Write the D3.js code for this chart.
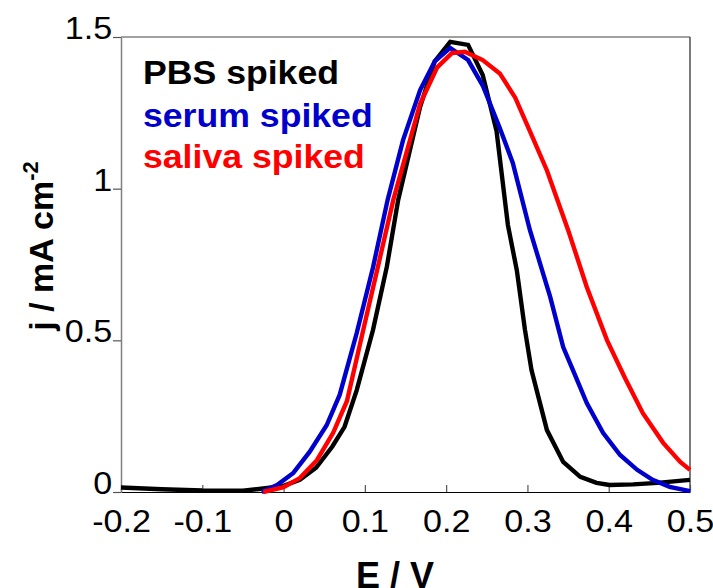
<!DOCTYPE html>
<html>
<head>
<meta charset="utf-8">
<script src="https://cdn.jsdelivr.net/npm/d3@7"></script>
<style>
  html, body { margin: 0; padding: 0; background: #fff; }
  svg { display: block; font-family: "Liberation Sans", Arial, sans-serif; }
</style>
</head>
<body>
<div id="chart"></div>
<script>
// ---- data (E / V, j / mA cm-2) ----
const pbs_E = [-0.20, -0.15, -0.10, -0.05, -0.03, 0.00, 0.02, 0.04, 0.06, 0.075, 0.09, 0.11, 0.127, 0.141, 0.168, 0.186, 0.205, 0.227, 0.245, 0.262, 0.276, 0.287, 0.297, 0.305, 0.324, 0.344, 0.365, 0.385, 0.401, 0.43, 0.46, 0.50];
const pbs_j = [0.015, 0.009, 0.005, 0.004, 0.010, 0.020, 0.040, 0.080, 0.150, 0.215, 0.336, 0.534, 0.742, 0.963, 1.27, 1.42, 1.484, 1.474, 1.375, 1.19, 0.88, 0.73, 0.534, 0.402, 0.204, 0.099, 0.050, 0.030, 0.023, 0.025, 0.030, 0.040];

const serum_E = [-0.027, -0.008, 0.012, 0.032, 0.053, 0.069, 0.09, 0.11, 0.128, 0.147, 0.168, 0.186, 0.205, 0.227, 0.245, 0.266, 0.282, 0.303, 0.328, 0.344, 0.356, 0.373, 0.393, 0.414, 0.435, 0.454, 0.475, 0.50];
const serum_j = [0.0, 0.023, 0.063, 0.132, 0.22, 0.32, 0.524, 0.74, 0.963, 1.16, 1.325, 1.42, 1.464, 1.424, 1.34, 1.2, 1.085, 0.864, 0.643, 0.478, 0.402, 0.293, 0.195, 0.122, 0.073, 0.040, 0.017, 0.003];

const saliva_E = [-0.025, 0.0, 0.02, 0.041, 0.061, 0.078, 0.098, 0.116, 0.135, 0.168, 0.189, 0.207, 0.223, 0.245, 0.266, 0.285, 0.303, 0.324, 0.35, 0.373, 0.398, 0.42, 0.442, 0.467, 0.488, 0.50];
const saliva_j = [0.0, 0.016, 0.046, 0.105, 0.195, 0.30, 0.534, 0.742, 0.963, 1.28, 1.40, 1.447, 1.451, 1.424, 1.38, 1.30, 1.19, 1.06, 0.864, 0.676, 0.50, 0.376, 0.26, 0.162, 0.099, 0.073];

const seriesNames = ['PBS spiked', 'serum spiked', 'saliva spiked'];
const seriesColors = ['#000000', '#0000cc', '#ff0000'];

const xTicks = [-0.2, -0.1, 0, 0.1, 0.2, 0.3, 0.4, 0.5];
const yTicks = [0, 0.5, 1, 1.5];

// ---- layout ----
const width = 713, height = 588;
const plot = { left: 121, right: 690, top: 37, bottom: 492 };
const stretch = 1.1;   // the original glyphs are a bit wider than Arial

const svg = d3.select('#chart').append('svg')
  .attr('width', width)
  .attr('height', height)
  .attr('viewBox', [0, 0, width, height]);

const x = d3.scaleLinear().domain([-0.2, 0.5]).range([plot.left, plot.right]);
const y = d3.scaleLinear().domain([0, 1.5]).range([plot.bottom, plot.top]);

const fmt = d => d === 0 ? '0' : String(d);

// frame: top + left grey, right + bottom dark
svg.append('line').attr('x1', plot.left).attr('x2', plot.right).attr('y1', plot.top).attr('y2', plot.top)
  .attr('stroke', '#808080').attr('stroke-width', 1.5);
svg.append('line').attr('x1', plot.right).attr('x2', plot.right).attr('y1', plot.top).attr('y2', plot.bottom)
  .attr('stroke', '#222').attr('stroke-width', 1.2);

// x axis (ticks inward)
const xAxis = svg.append('g')
  .attr('transform', `translate(0,${plot.bottom})`)
  .call(d3.axisBottom(x).tickValues(xTicks).tickFormat(fmt).tickSizeInner(-7).tickSizeOuter(0).tickPadding(18));
xAxis.select('.domain').attr('stroke', '#000').attr('stroke-width', 1.2);
xAxis.selectAll('.tick line').attr('stroke', '#555').attr('stroke-width', 1.2);
xAxis.selectAll('.tick text')
  .attr('font-size', 31).attr('fill', '#000')
  .attr('transform', `scale(${stretch},1)`)
  .attr('font-family', '"Liberation Sans", Arial, sans-serif');

// y axis (ticks outward)
const yAxis = svg.append('g')
  .attr('transform', `translate(${plot.left},0)`)
  .call(d3.axisLeft(y).tickValues(yTicks).tickFormat(fmt).tickSizeInner(8).tickSizeOuter(0).tickPadding(0));
yAxis.select('.domain').attr('stroke', '#808080').attr('stroke-width', 1.5);
yAxis.selectAll('.tick line').attr('stroke', '#555').attr('stroke-width', 1.2);
yAxis.selectAll('.tick text')
  .attr('font-size', 31).attr('fill', '#000').attr('dy', '0.05em')
  .attr('transform', `scale(${stretch},1)`)
  .attr('font-family', '"Liberation Sans", Arial, sans-serif');

// curves
const curves = [
  { E: pbs_E, j: pbs_j },
  { E: serum_E, j: serum_j },
  { E: saliva_E, j: saliva_j }
];

const line = d3.line().x(d => x(d[0])).y(d => y(d[1]));

svg.append('g').attr('fill', 'none')
  .selectAll('path')
  .data(curves)
  .join('path')
  .attr('d', d => line(d.E.map((e, i) => [e, d.j[i]])))
  .attr('stroke', (d, i) => seriesColors[i])
  .attr('stroke-width', 4.4)
  .attr('stroke-linejoin', 'miter');

// legend
svg.append('g')
  .selectAll('text')
  .data(seriesNames)
  .join('text')
  .attr('transform', (d, i) => `translate(143,${[84, 127, 168][i]}) scale(1.08,1)`)
  .attr('fill', (d, i) => seriesColors[i])
  .attr('font-size', 33)
  .attr('font-weight', 'bold')
  .text(d => d);

// axis titles (the original crops "E / V" at the bottom edge)
svg.append('text')
  .attr('x', 395).attr('y', 588)
  .attr('text-anchor', 'middle')
  .attr('font-size', 36).attr('font-weight', 'bold')
  .text('E / V');

const yTitle = svg.append('text')
  .attr('transform', 'translate(53,246) rotate(-90)')
  .attr('text-anchor', 'middle')
  .attr('font-size', 34).attr('font-weight', 'bold');
yTitle.append('tspan').text('j / mA cm');
yTitle.append('tspan').attr('font-size', 22).attr('dy', -15).text('-2');
</script>
</body>
</html>
